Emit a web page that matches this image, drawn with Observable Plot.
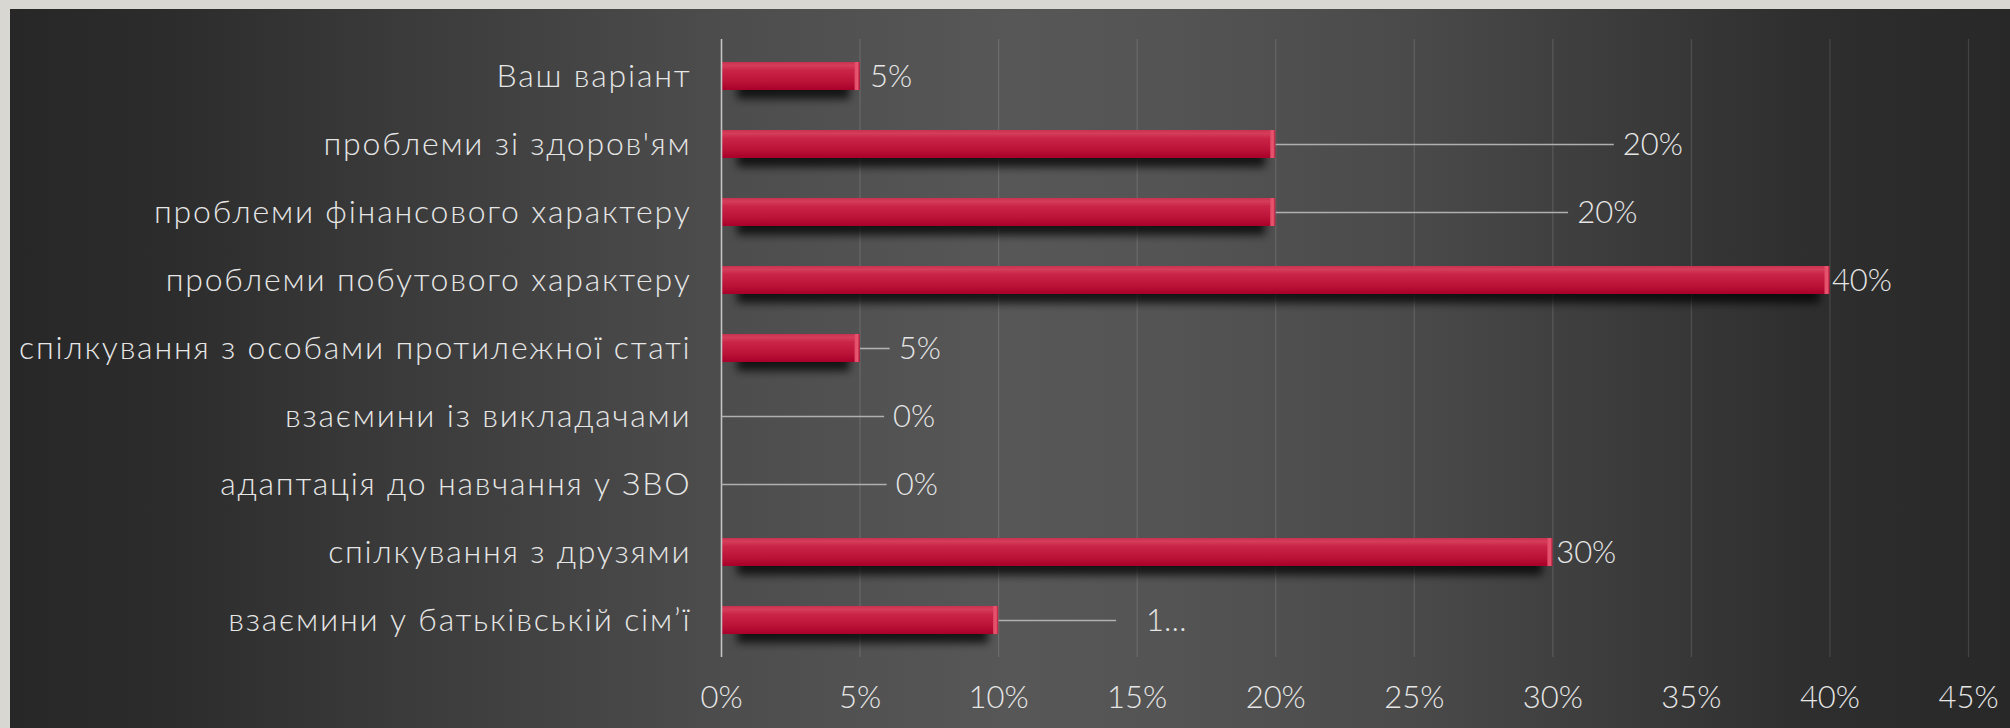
<!DOCTYPE html>
<html>
<head>
<meta charset="utf-8">
<script src="https://cdn.jsdelivr.net/npm/d3@7"></script>
<script src="https://cdn.jsdelivr.net/npm/@observablehq/plot@0.6"></script>
<style>
  html, body { margin: 0; padding: 0; }
  body { width: 2010px; height: 728px; background: #d9d7d2; position: relative; overflow: hidden; }
  #panel {
    position: absolute; left: 10px; top: 9px; width: 2000px; height: 719px;
    background: linear-gradient(90deg, #272727 0%, #2c2c2c 8%, #3a3a3a 19%, #4d4d4d 36%, #575757 50%, #545454 58%, #4a4a4a 70%, #3c3c3c 80%, #2e2e2e 90%, #282828 100%);
  }
  #chart { position: absolute; left: 0; top: 0; }
</style>
</head>
<body>
<div id="panel"></div>
<div id="chart"></div>
<svg width="0" height="0" style="position:absolute">
  <defs>
    <linearGradient id="barGrad" x1="0" y1="0" x2="0" y2="1">
      <stop offset="0" stop-color="#c8314f"/>
      <stop offset="0.12" stop-color="#d63d5b"/>
      <stop offset="0.3" stop-color="#c92447"/>
      <stop offset="0.7" stop-color="#bb1238"/>
      <stop offset="1" stop-color="#a9002a"/>
    </linearGradient>
    <linearGradient id="capGrad" x1="0" y1="0" x2="1" y2="0">
      <stop offset="0" stop-color="#e04a66"/>
      <stop offset="0.6" stop-color="#e8566f"/>
      <stop offset="1" stop-color="#b8163a"/>
    </linearGradient>
    <filter id="blurShadow" x="-10%" y="-60%" width="120%" height="220%">
      <feGaussianBlur stdDeviation="4"/>
    </filter>
  </defs>
</svg>
<script>
const categories = [
  "Ваш варіант",
  "проблеми зі здоров'ям",
  "проблеми фінансового характеру",
  "проблеми побутового характеру",
  "спілкування з особами протилежної статі",
  "взаємини із викладачами",
  "адаптація до навчання у ЗВО",
  "спілкування з друзями",
  "взаємини у батьківській сім’ї"
];
const values = [5, 20, 20, 40, 5, 0, 0, 30, 10];
const valueLabels = ["5%", "20%", "20%", "40%", "5%", "0%", "0%", "30%", "1…"];
// where the (manually placed) data labels sit, in % units
const leaderEnds = [null, 32.2, 30.55, null, 6.07, 5.87, 5.96, null, 14.24];
const labelStarts = [5.36, 32.52, 30.88, 40.07, 6.40, 6.19, 6.29, 30.12, 15.32];
const xTicks = [0, 5, 10, 15, 20, 25, 30, 35, 40, 45];
const tickLabels = ["0%", "5%", "10%", "15%", "20%", "25%", "30%", "35%", "40%", "45%"];

const data = categories.map((c, i) => ({
  category: c, value: values[i], label: valueLabels[i],
  leaderEnd: leaderEnds[i], labelStart: labelStarts[i]
}));
const ticks = xTicks.map((t, i) => ({t, label: tickLabels[i]}));

const numFont = "Lato, 'Open Sans', sans-serif";
const catFont = "Lato, 'Open Sans', sans-serif";

const plot = Plot.plot({
  width: 2010,
  height: 728,
  marginLeft: 721,
  marginRight: 42,
  marginTop: 39,
  marginBottom: 71,
  style: {background: "transparent", color: "#e6e6e6", fontFamily: catFont},
  x: {domain: [0, 45], axis: null},
  y: {domain: categories, axis: null, paddingInner: 0.59, paddingOuter: 0.295},
  marks: [
    Plot.ruleX(xTicks.filter(t => t > 0), {stroke: "#ffffff", strokeOpacity: 0.13, strokeWidth: 1.2}),
    Plot.barX(data.filter(d => d.value > 0), {x: "value", y: "category", fill: "#000", fillOpacity: 0.75, dy: 9, insetLeft: 16, insetRight: 10}),
    Plot.barX(data, {x: "value", y: "category", fill: "url(#barGrad)"}),
    Plot.barX(data.filter(d => d.value > 0), {x1: "value", x2: "value", y: "category", insetLeft: -5, fill: "url(#capGrad)"}),
    Plot.ruleX([0], {stroke: "#c4c4c4", strokeWidth: 1.6}),
    Plot.link(data.filter(d => d.leaderEnd != null), {
      x1: "value", x2: "leaderEnd", y1: "category", y2: "category",
      stroke: "#b0b0b0", strokeWidth: 1.6
    }),
    Plot.text(data, {
      x: "labelStart", y: "category", text: "label", textAnchor: "start",
      fill: "#e6e6e6", fontSize: 31, fontFamily: numFont, fontWeight: 300, dy: 1
    }),
    Plot.text(categories, {
      y: d => d, text: d => d, frameAnchor: "left", textAnchor: "end", dx: -30,
      fill: "#e6e6e6", fontSize: 32, fontFamily: catFont, fontWeight: 300
    }),
    Plot.text(ticks, {
      x: "t", text: "label", frameAnchor: "bottom", dy: 50,
      fill: "#e6e6e6", fontSize: 31, fontFamily: numFont, fontWeight: 300
    })
  ]
});
document.getElementById("chart").appendChild(plot);
// blur the drop shadows of the bars
const barGroups = d3.select(plot).selectAll("g[aria-label='bar']").nodes();
if (barGroups.length) d3.select(barGroups[0]).attr("filter", "url(#blurShadow)");
// wider tracking for the category labels (the original uses a wide geometric face)
const textGroups = d3.select(plot).selectAll("g[aria-label='text']").nodes();
if (textGroups.length > 1) d3.select(textGroups[1]).style("letter-spacing", "1.8px");
</script>
</body>
</html>
